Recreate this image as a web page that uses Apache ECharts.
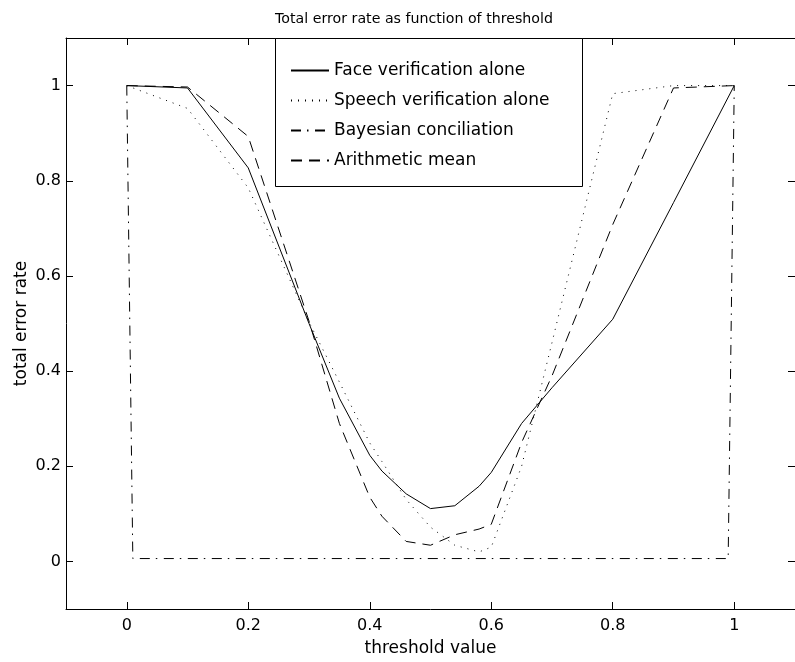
<!DOCTYPE html>
<html>
<head>
<meta charset="utf-8">
<script src="https://cdn.jsdelivr.net/npm/echarts@6/dist/echarts.min.js"></script>
<style>
html,body{margin:0;padding:0;background:#fff;}
#chart{width:795px;height:662px;}
</style>
</head>
<body>
<div id="chart"></div>
<script>
// ---- data ----
const threshold      = [0, 0.1, 0.2, 0.3, 0.35, 0.4, 0.42, 0.46, 0.5, 0.54, 0.58, 0.6, 0.65, 0.7, 0.8, 0.9, 1.0];
const faceAlone      = [1.0, 0.995, 0.827, 0.50, 0.343, 0.223, 0.19, 0.142, 0.111, 0.117, 0.158, 0.187, 0.29, 0.365, 0.509, 0.754, 1.0];
const speechAlone    = [1.0, 0.952, 0.785, 0.503, 0.377, 0.249, 0.21, 0.13, 0.072, 0.034, 0.02, 0.03, 0.2, 0.46, 0.983, 1.0, 1.0];
const arithmeticMean = [1.0, 0.997, 0.893, 0.505, 0.29, 0.135, 0.095, 0.042, 0.034, 0.056, 0.068, 0.078, 0.25, 0.39, 0.708, 0.995, 1.0];
const bayesThreshold = [0, 0.01, 0.99, 1.0];
const bayesValues    = [1.0, 0.006, 0.006, 1.0];
const tickValues     = [0, 0.2, 0.4, 0.6, 0.8, 1];
const seriesNames    = ['Face verification alone', 'Speech verification alone', 'Bayesian conciliation', 'Arithmetic mean'];

function pairs(xs, ys) { return xs.map((x, i) => [x, ys[i]]); }

const FONT = 'DejaVu Sans';
const chart = echarts.init(document.getElementById('chart'));

const axisCommon = {
  type: 'value', min: -0.1, max: 1.1,
  axisLine: { show: true, onZero: false, lineStyle: { color: '#000', width: 1 } },
  splitLine: { show: false },
  axisTick: { show: true, inside: true, length: 7, customValues: tickValues, lineStyle: { color: '#000' } }
};

function lineSeries(name, data, type) {
  return {
    name: name, type: 'line', data: data, showSymbol: false, symbol: 'none',
    animation: false, z: 2,
    lineStyle: { color: '#000', width: 1, type: type },
    itemStyle: { color: '#000' }
  };
}

chart.setOption({
  backgroundColor: '#fff',
  animation: false,
  title: {
    text: 'Total error rate as function of threshold',
    left: 409, top: 7, textAlign: 'center',
    textStyle: { fontFamily: FONT, fontSize: 14.2, fontWeight: 'normal', color: '#000' }
  },
  grid: { left: 66, top: 38, width: 737.5, height: 575, containLabel: false },
  xAxis: [
    Object.assign({}, axisCommon, {
      position: 'bottom',
      axisLabel: { show: true, customValues: tickValues, margin: 9, color: '#000', fontFamily: FONT, fontSize: 16 },
      name: 'threshold value', nameLocation: 'middle', nameGap: 31, nameMoveOverlap: false,
      nameTextStyle: { color: '#000', fontFamily: FONT, fontSize: 17 }
    }),
    Object.assign({}, axisCommon, { position: 'top', axisLabel: { show: false } })
  ],
  yAxis: [
    Object.assign({}, axisCommon, {
      position: 'left',
      axisLabel: { show: true, customValues: tickValues, margin: 5, color: '#000', fontFamily: FONT, fontSize: 16 },
      name: 'total error rate', nameLocation: 'middle', nameGap: 36, nameMoveOverlap: false,
      nameTextStyle: { color: '#000', fontFamily: FONT, fontSize: 17 }
    }),
    Object.assign({}, axisCommon, { position: 'right', axisLabel: { show: false } })
  ],
  legend: {
    data: seriesNames,
    orient: 'vertical', left: 285, top: 57,
    itemWidth: 38, itemHeight: 16, itemGap: 13,
    z: 10,
    itemStyle: { color: 'rgba(0,0,0,0)', borderColor: 'rgba(0,0,0,0)', borderWidth: 0, opacity: 0 },
    textStyle: { fontFamily: FONT, fontSize: 17, color: '#000', lineHeight: 16 },
    selectedMode: false
  },
  graphic: [{
    type: 'rect', z: 5,
    shape: { x: 275.5, y: 38.5, width: 307, height: 148 },
    style: { fill: '#fff', stroke: '#000', lineWidth: 1 }
  }],
  series: [
    lineSeries(seriesNames[0], pairs(threshold, faceAlone), 'solid'),
    lineSeries(seriesNames[1], pairs(threshold, speechAlone), [1, 6]),
    lineSeries(seriesNames[2], pairs(bayesThreshold, bayesValues), [10, 6, 1.5, 6.5]),
    lineSeries(seriesNames[3], pairs(threshold, arithmeticMean), [11, 7])
  ]
});
</script>
</body>
</html>
